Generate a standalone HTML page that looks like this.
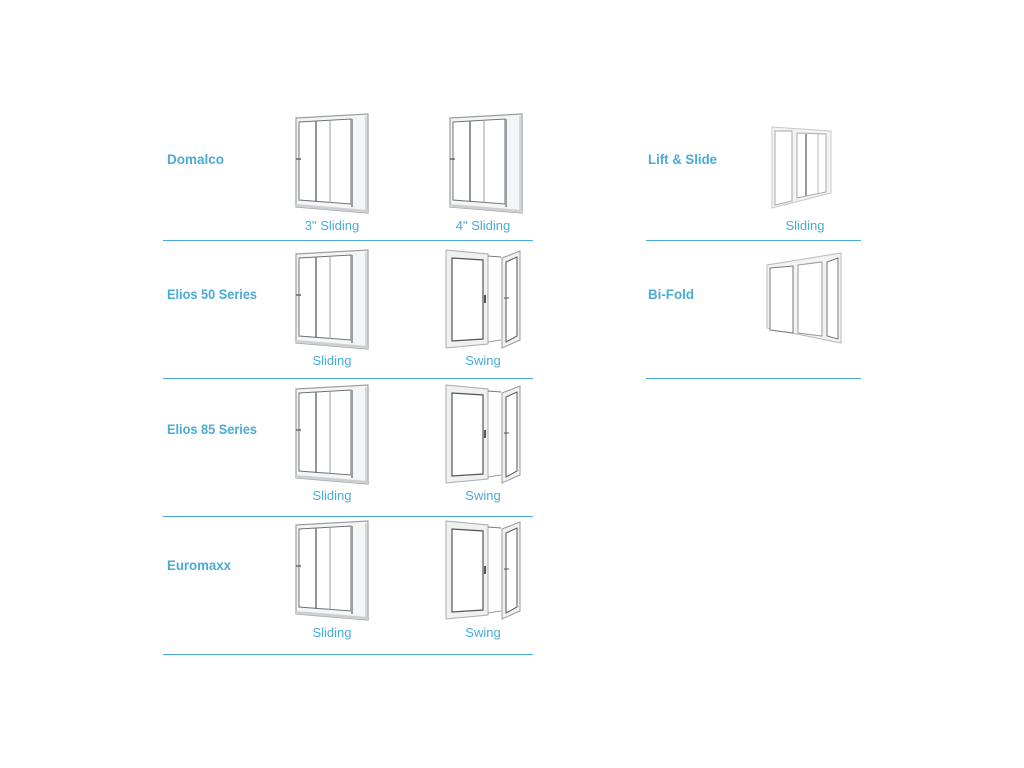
<!DOCTYPE html>
<html><head><meta charset="utf-8"><style>
body{margin:0;background:#fff;}
svg{display:block}
.t{font-family:"Liberation Sans",sans-serif;font-weight:bold;font-size:14px;fill:#4aabd6}
.l{font-family:"Liberation Sans",sans-serif;font-size:13px;fill:#4aabd6}
</style></head><body>
<svg width="1024" height="768" viewBox="0 0 1024 768" xmlns="http://www.w3.org/2000/svg">
<defs>
<g id="sl">
  <polygon points="0,4 72,0 72,99 0,93" fill="#f4f5f6" stroke="#9a9ea2" stroke-width="1.2"/>
  <polygon points="3,8 55,5 55,90 3,86" fill="#fff" stroke="#6d7276" stroke-width="1"/>
  <line x1="20" y1="7" x2="20" y2="88" stroke="#6d7276" stroke-width="1.5"/>
  <line x1="34" y1="6" x2="34" y2="89" stroke="#9a9ea2" stroke-width="1"/>
  <line x1="56" y1="5" x2="56" y2="93" stroke="#9a9ea2" stroke-width="2"/>
  <line x1="70" y1="2" x2="70" y2="97" stroke="#bbb" stroke-width="1"/>
  <polygon points="0,93 72,99 72,96 0,90" fill="#ccd0d3"/>
  <line x1="0" y1="45" x2="5" y2="45" stroke="#333" stroke-width="1"/>
</g>
<g id="sw">
  <polygon points="0,0 42,4 42,94 0,98" fill="#eef0f2" stroke="#a8acb0" stroke-width="1"/>
  <polygon points="6,8 37,10 37,89 6,91" fill="#fff" stroke="#555" stroke-width="1.2"/>
  <line x1="42" y1="6" x2="55" y2="7" stroke="#777" stroke-width="1"/>
  <line x1="42" y1="92" x2="55" y2="90" stroke="#999" stroke-width="1"/>
  <polygon points="56,8 74,1 74,90 56,98" fill="#eef0f2" stroke="#999" stroke-width="1"/>
  <polygon points="60,12 71,7 71,86 60,92" fill="#fff" stroke="#555" stroke-width="1"/>
  <rect x="38" y="45" width="2" height="8" fill="#555"/>
  <line x1="58" y1="48" x2="63" y2="48" stroke="#555"/>
</g>
</defs>
<g fill="none" stroke="#4aabd6" stroke-width="1">
<line x1="163" y1="240.5" x2="533" y2="240.5"/>
<line x1="163" y1="378.5" x2="533" y2="378.5"/>
<line x1="163" y1="516.5" x2="533" y2="516.5"/>
<line x1="163" y1="654.5" x2="533" y2="654.5"/>
<line x1="646" y1="240.5" x2="861" y2="240.5"/>
<line x1="646" y1="378.5" x2="861" y2="378.5"/>
</g>
<text class="t" x="167" y="164" textLength="57" lengthAdjust="spacingAndGlyphs">Domalco</text>
<text class="t" x="167" y="299" textLength="90" lengthAdjust="spacingAndGlyphs">Elios 50 Series</text>
<text class="t" x="167" y="434" textLength="90" lengthAdjust="spacingAndGlyphs">Elios 85 Series</text>
<text class="t" x="167" y="570" textLength="64" lengthAdjust="spacingAndGlyphs">Euromaxx</text>
<text class="t" x="648" y="164" textLength="69" lengthAdjust="spacingAndGlyphs">Lift &amp; Slide</text>
<text class="t" x="648" y="299" textLength="46" lengthAdjust="spacingAndGlyphs">Bi-Fold</text>
<use href="#sl" x="296" y="114"/>
<use href="#sl" x="450" y="114"/>
<use href="#sl" x="296" y="250"/>
<use href="#sw" x="446" y="250"/>
<use href="#sl" x="296" y="385"/>
<use href="#sw" x="446" y="385"/>
<use href="#sl" x="296" y="521"/>
<use href="#sw" x="446" y="521"/>
<g>
  <polygon points="772,127 831,131 831,193 772,208" fill="#f2f3f4" stroke="#c5c8cb"/>
  <polygon points="775,131 792,131 792,201 775,205" fill="#fff" stroke="#aaa"/>
  <polygon points="797,133 826,134 826,192 797,198" fill="#fff" stroke="#aaa"/>
  <line x1="806" y1="134" x2="806" y2="196" stroke="#999" stroke-width="2"/>
  <line x1="818" y1="134" x2="818" y2="194" stroke="#bbb"/>
</g>
<g>
  <polygon points="767,265 841,253 841,343 767,328" fill="#f2f3f4" stroke="#b5b8bb"/>
  <polygon points="770,268 793,266 793,333 770,330" fill="#fff" stroke="#777"/>
  <polygon points="798,265 822,262 822,336 798,333" fill="#fff" stroke="#999"/>
  <polygon points="827,262 838,258 838,339 827,336" fill="#fff" stroke="#777"/>
</g>
<text class="l" x="332" y="230" text-anchor="middle">3" Sliding</text>
<text class="l" x="483" y="230" text-anchor="middle">4" Sliding</text>
<text class="l" x="332" y="365" text-anchor="middle">Sliding</text>
<text class="l" x="483" y="365" text-anchor="middle">Swing</text>
<text class="l" x="332" y="500" text-anchor="middle">Sliding</text>
<text class="l" x="483" y="500" text-anchor="middle">Swing</text>
<text class="l" x="332" y="637" text-anchor="middle">Sliding</text>
<text class="l" x="483" y="637" text-anchor="middle">Swing</text>
<text class="l" x="805" y="230" text-anchor="middle">Sliding</text>
</svg>
</body></html>
